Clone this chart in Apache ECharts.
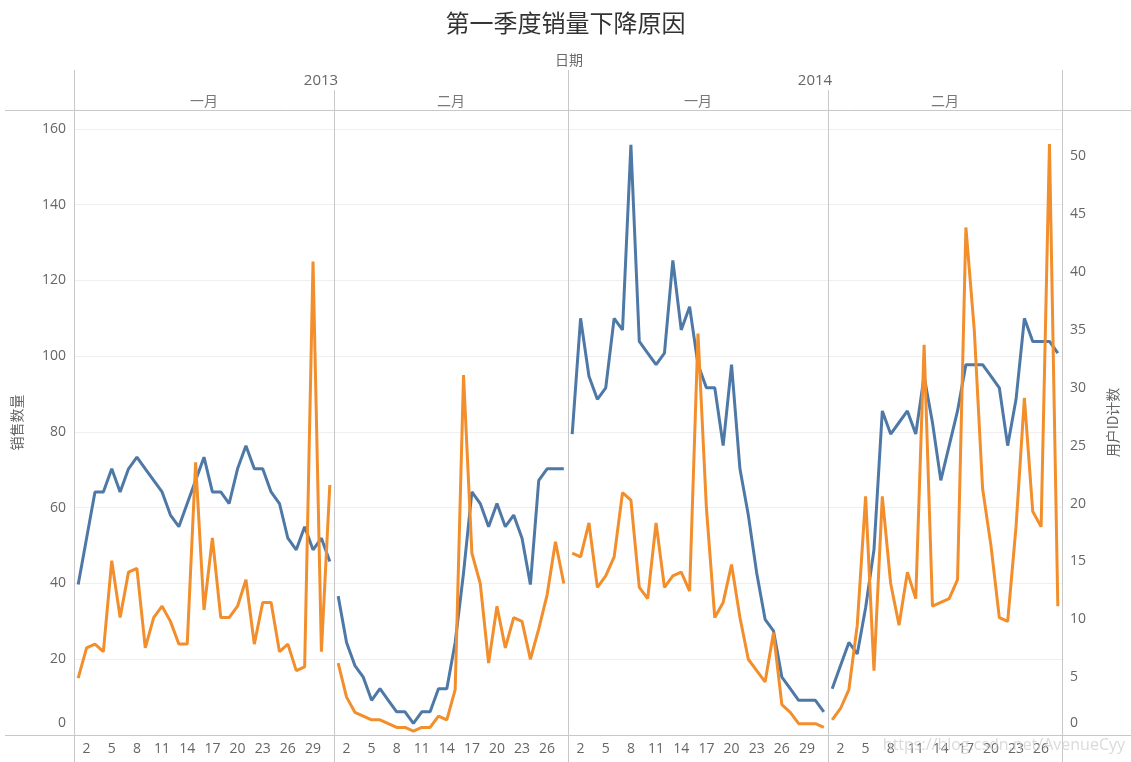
<!DOCTYPE html>
<html><head><meta charset="utf-8">
<script src="https://cdn.jsdelivr.net/npm/echarts@6/dist/echarts.min.js"></script>
<style>html,body{margin:0;padding:0;background:#fff}#c{width:1131px;height:762px}</style>
</head><body><div id="c"></div>
<script>
// ---- data ----
const chartTitle = '第一季度销量下降原因';
const dateHeader = '日期';
const years = ['2013', '2014'];
const months = ['一月', '二月', '一月', '二月'];
const janDays = ['1','2','3','4','5','6','7','8','9','10','11','12','13','14','15','16','17','18','19','20','21','22','23','24','25','26','27','28','29','30','31'];
const febDays = ['1','2','3','4','5','6','7','8','9','10','11','12','13','14','15','16','17','18','19','20','21','22','23','24','25','26','27','28'];
const salesName = '销售数量';
const usersName = '用户ID计数';
const salesTicks = [0, 20, 40, 60, 80, 100, 120, 140, 160];
const usersTicks = [0, 5, 10, 15, 20, 25, 30, 35, 40, 45, 50];
const sales2013Jan = [15,23,24,22,46,31,43,44,23,31,34,30,24,24,72,33,52,31,31,34,41,24,35,35,22,24,17,18,125,22,66];
const users2013Jan = [13,17,21,21,23,21,23,24,23,22,21,19,18,20,22,24,21,21,20,23,25,23,23,21,20,17,16,18,16,17,15];
const sales2013Feb = [19,10,6,5,4,4,3,2,2,1,2,2,5,4,12,95,48,40,19,34,23,31,30,20,28,37,51,40];
const users2013Feb = [12,8,6,5,3,4,3,2,2,1,2,2,4,4,8,14,21,20,18,20,18,19,17,13,22,23,23,23];
const sales2014Jan = [48,47,56,39,42,47,64,62,39,36,56,39,42,43,38,106,60,31,35,45,31,20,17,14,27,8,6,3,3,3,2];
const users2014Jan = [26,36,31,29,30,36,35,51,34,33,32,33,41,35,37,32,30,30,25,32,23,19,14,10,9,5,4,3,3,3,2];
const sales2014Feb = [4,7,12,29,63,17,63,40,29,43,36,103,34,35,36,41,134,107,65,50,31,30,55,89,59,55,156,34];
const users2014Feb = [4,6,8,7,11,16,28,26,27,28,26,31,27,22,25,28,32,32,32,31,30,25,29,36,34,34,34,33];

const panels = [
  {days: janDays, sales: sales2013Jan, users: users2013Jan},
  {days: febDays, sales: sales2013Feb, users: users2013Feb},
  {days: janDays, sales: sales2014Jan, users: users2014Jan},
  {days: febDays, sales: sales2014Feb, users: users2014Feb}
];

// ---- layout ----
const FONT = '"Open Sans","Noto Sans CJK SC",sans-serif';
const CJK = '"Noto Sans CJK SC",sans-serif';
const panelLeft = [74, 334, 568, 828];
const panelWidth = [260, 234, 260, 234];
const TOP = 110, BOTTOM = 735;
const LINE = '#c8c8c8';
const TXT = '#666';
const BLUE = '#4e79a7', ORANGE = '#f28e2b';

const grids = [], xAxes = [], yAxes = [], series = [];
panels.forEach((p, i) => {
  grids.push({left: panelLeft[i], top: TOP, width: panelWidth[i], height: BOTTOM - TOP});
  xAxes.push({
    type: 'category', gridIndex: i, data: p.days, boundaryGap: true,
    axisLine: {show: false}, axisTick: {show: false},
    axisLabel: {interval: (idx) => idx % 3 === 1, color: TXT, fontSize: 14, fontFamily: FONT, margin: 7}
  });
  yAxes.push({
    type: 'value', gridIndex: i, position: 'left', min: 0, max: 165, interval: salesTicks[1] - salesTicks[0],
    axisLine: {show: false}, axisTick: {show: false},
    splitLine: {show: true, showMaxLine: false, lineStyle: {color: '#efefef', width: 1}},
    axisLabel: {
      show: i === 0, showMaxLabel: false, color: TXT, fontSize: 14, fontFamily: FONT, margin: 8,
      formatter: (v) => v === 0 ? '{z|0}' : String(v),
      rich: {z: {padding: [0, 0, 24, 0], color: TXT, fontSize: 14, fontFamily: FONT}}
    },
    name: i === 0 ? salesName : '', nameLocation: 'middle', nameGap: 50, nameRotate: 90,
    nameTextStyle: {color: TXT, fontSize: 14, fontFamily: CJK}
  });
  yAxes.push({
    type: 'value', gridIndex: i, position: 'right', min: 0, max: 54, interval: usersTicks[1] - usersTicks[0],
    axisLine: {show: false}, axisTick: {show: false}, splitLine: {show: false},
    axisLabel: {
      show: i === 3, showMaxLabel: false, color: TXT, fontSize: 14, fontFamily: FONT, margin: 8,
      formatter: (v) => v === 0 ? '{z|0}' : String(v),
      rich: {z: {padding: [0, 0, 24, 0], color: TXT, fontSize: 14, fontFamily: FONT}}
    },
    name: i === 3 ? usersName : '', nameLocation: 'middle', nameGap: 44, nameRotate: 90,
    nameTextStyle: {color: TXT, fontSize: 14, fontFamily: CJK}
  });
  series.push({
    type: 'line', name: usersName, xAxisIndex: i, yAxisIndex: 2 * i + 1, data: p.users,
    symbol: 'none', lineStyle: {color: BLUE, width: 3}, itemStyle: {color: BLUE}, z: 2, animation: false
  });
  series.push({
    type: 'line', name: salesName, xAxisIndex: i, yAxisIndex: 2 * i, data: p.sales,
    symbol: 'none', lineStyle: {color: ORANGE, width: 3}, itemStyle: {color: ORANGE}, z: 3, animation: false
  });
});

const graphics = [];
function hline(y, x1, x2) { graphics.push({type: 'line', silent: true, z: 10, shape: {x1, y1: y, x2, y2: y}, style: {stroke: LINE, lineWidth: 1}}); }
function vline(x, y1, y2) { graphics.push({type: 'line', silent: true, z: 10, shape: {x1: x, y1, x2: x, y2}, style: {stroke: LINE, lineWidth: 1}}); }
function txt(t, x, y, size, color, font) {
  graphics.push({type: 'text', silent: true, z: 10, x, y, style: {text: t, fill: color, fontSize: size, fontFamily: font, align: 'center', verticalAlign: 'middle'}});
}
hline(110.5, 5, 1131);
hline(735.5, 5, 1131);
vline(74.5, 70, 762);
vline(334.5, 90, 762);
vline(568.5, 70, 762);
vline(828.5, 90, 762);
vline(1062.5, 70, 762);
txt(dateHeader, 569, 60, 14, '#6a6a6a', CJK);
txt(years[0], 321, 81, 15, TXT, FONT);
txt(years[1], 815, 81, 15, TXT, FONT);
months.forEach((m, i) => txt(m, panelLeft[i] + panelWidth[i] / 2, 101, 14, '#777', CJK));
graphics.push({type: 'text', silent: true, z: 20, x: 1125, y: 745,
  style: {text: 'https://blog.csdn.net/AvenueCyy', fill: 'rgba(205,205,205,0.75)', fontSize: 16, fontFamily: FONT, align: 'right', verticalAlign: 'middle'}});

const chart = echarts.init(document.getElementById('c'), null, {renderer: 'canvas'});
chart.setOption({
  backgroundColor: '#fff',
  animation: false,
  title: {text: chartTitle, left: 'center', top: 6, textStyle: {fontSize: 24, fontWeight: 'normal', color: '#333', fontFamily: CJK}},
  grid: grids, xAxis: xAxes, yAxis: yAxes, series: series,
  graphic: graphics
});
</script></body></html>
